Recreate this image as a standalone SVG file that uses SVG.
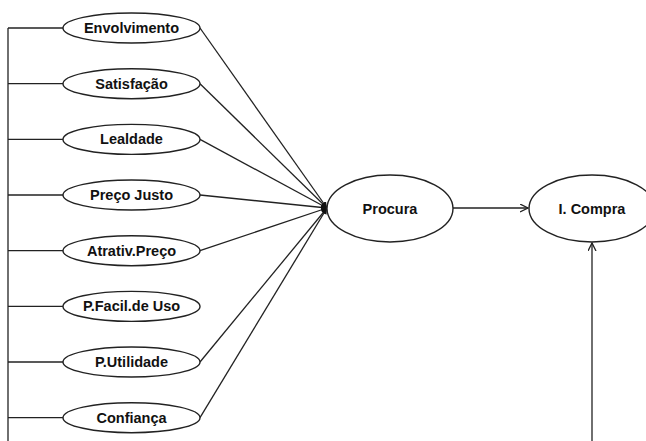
<svg xmlns="http://www.w3.org/2000/svg" width="646" height="441" viewBox="0 0 646 441">
<style>
.n ellipse{fill:#fff;stroke:#222;stroke-width:1.4}
.n text{font-family:"Liberation Sans",Arial,sans-serif;font-weight:bold;font-size:14.5px;fill:#111;text-anchor:middle}
.c line,.c path{stroke:#222;stroke-width:1.3;fill:none}
</style>
<defs>
<marker id="a" markerWidth="10" markerHeight="10" refX="8" refY="4" orient="auto" markerUnits="userSpaceOnUse">
<path d="M0,0 L8,4 L0,8" fill="none" stroke="#222" stroke-width="1.3"/>
</marker>
<marker id="b" markerWidth="8" markerHeight="8" refX="6" refY="3" orient="auto" markerUnits="userSpaceOnUse">
<path d="M0,0 L6,3 L0,6 z" fill="#111"/>
</marker>
</defs>
<g class="c" id="connectors">
<path d="M8,441 V28"/>
<line x1="8" y1="28" x2="63" y2="28"/>
<line x1="8" y1="83.7" x2="63" y2="83.7"/>
<line x1="8" y1="139.4" x2="63" y2="139.4"/>
<line x1="8" y1="195" x2="63" y2="195"/>
<line x1="8" y1="250.7" x2="63" y2="250.7"/>
<line x1="8" y1="306.4" x2="63" y2="306.4"/>
<line x1="8" y1="362" x2="63" y2="362"/>
<line x1="8" y1="417.7" x2="63" y2="417.7"/>
<line x1="200" y1="28" x2="327" y2="208" marker-end="url(#b)"/>
<line x1="200" y1="83.7" x2="327" y2="208" marker-end="url(#b)"/>
<line x1="200" y1="139.4" x2="327" y2="208" marker-end="url(#b)"/>
<line x1="200" y1="195" x2="327" y2="208" marker-end="url(#b)"/>
<line x1="200" y1="250.7" x2="327" y2="208" marker-end="url(#b)"/>
<line x1="200" y1="362" x2="327" y2="208" marker-end="url(#b)"/>
<line x1="200" y1="417.7" x2="327" y2="208" marker-end="url(#b)"/>
<line x1="453" y1="208" x2="528" y2="208" marker-end="url(#a)"/>
<line x1="592" y1="441" x2="592" y2="243" marker-end="url(#a)"/>
</g>
<g class="n" id="envolvimento"><ellipse cx="131.5" cy="28" rx="68.5" ry="15"/><text x="131.5" y="33">Envolvimento</text></g>
<g class="n" id="satisfacao"><ellipse cx="131.5" cy="83.7" rx="68.5" ry="15"/><text x="131.5" y="88.7">Satisfação</text></g>
<g class="n" id="lealdade"><ellipse cx="131.5" cy="139.4" rx="68.5" ry="15"/><text x="131.5" y="144.4">Lealdade</text></g>
<g class="n" id="preco-justo"><ellipse cx="131.5" cy="195" rx="68.5" ry="15"/><text x="131.5" y="200">Preço Justo</text></g>
<g class="n" id="atrativ-preco"><ellipse cx="131.5" cy="250.7" rx="68.5" ry="15"/><text x="131.5" y="255.7">Atrativ.Preço</text></g>
<g class="n" id="p-facil-uso"><ellipse cx="131.5" cy="306.4" rx="68.5" ry="15"/><text x="131.5" y="311.4">P.Facil.de Uso</text></g>
<g class="n" id="p-utilidade"><ellipse cx="131.5" cy="362" rx="68.5" ry="15"/><text x="131.5" y="367">P.Utilidade</text></g>
<g class="n" id="confianca"><ellipse cx="131.5" cy="417.7" rx="68.5" ry="15"/><text x="131.5" y="422.7">Confiança</text></g>
<g class="n" id="procura"><ellipse cx="390" cy="208.5" rx="63" ry="33.5"/><text x="390" y="213.5">Procura</text></g>
<g class="n" id="i-compra"><ellipse cx="592" cy="208.5" rx="63" ry="33.5"/><text x="592" y="213.5">I. Compra</text></g>
</svg>
